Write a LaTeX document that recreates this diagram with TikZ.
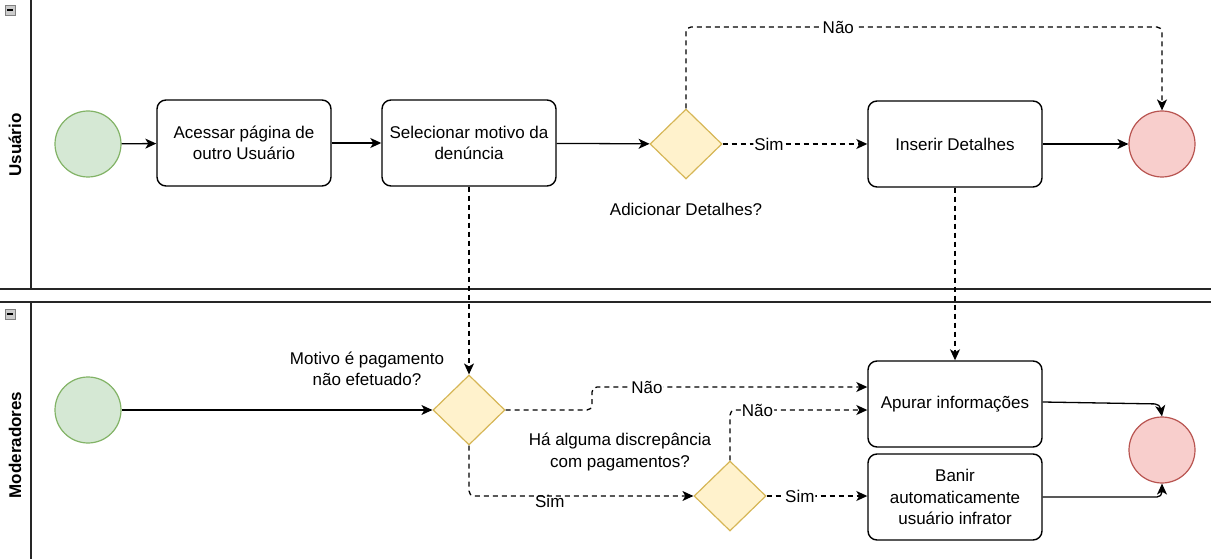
\documentclass[tikz,border=0pt]{standalone}
\usepackage{fontspec}
\setmainfont{Liberation Sans}
\usetikzlibrary{shapes.geometric,arrows.meta,positioning}
\definecolor{startfill}{HTML}{D5E8D4}
\definecolor{startline}{HTML}{82B366}
\definecolor{endfill}{HTML}{F8CECC}
\definecolor{endline}{HTML}{B85450}
\definecolor{gwfill}{HTML}{FFF2CC}
\definecolor{gwline}{HTML}{D6B656}
\tikzset{
  every node/.style={font=\fontsize{17}{21.5}\selectfont},
  task/.style={draw=black, line width=1.4pt, rounded corners=9pt, fill=white, minimum width=174pt, minimum height=86pt, align=center, inner sep=2pt},
  startev/.style={circle, draw=startline, fill=startfill, line width=1.2pt, minimum size=66pt, inner sep=0pt},
  endev/.style={circle, draw=endline, fill=endfill, line width=1.2pt, minimum size=66pt, inner sep=0pt},
  gw/.style={diamond, draw=gwline, fill=gwfill, line width=1.2pt, minimum width=72pt, minimum height=70pt, inner sep=0pt, aspect=1},
  flow/.style={line width=1.3pt, -{Stealth[length=11pt,width=10pt,inset=3pt]}, rounded corners=5pt},
  msg/.style={flow, dash pattern=on 5pt off 4pt},
  lbl/.style={fill=white, inner sep=1pt},
  lanelbl/.style={rotate=90, font=\fontsize{17}{21}\selectfont\bfseries},
  lane/.style={line width=1.3pt, draw=black!85},
  collapse/.style={draw=gray, fill=black!20, minimum size=10pt, inner sep=0pt}
}
\begin{document}
\begin{tikzpicture}[x=1pt,y=-1pt]
\useasboundingbox (0,0) rectangle (1211,559);
% lanes
\draw[lane] (31,0) -- (31,289);
\draw[lane] (0,289) -- (1211,289);
\draw[lane] (0,302) -- (1211,302);
\draw[lane] (31,302) -- (31,559);
\node[collapse] (c1) at (10,10) {};
\draw[line width=1.2pt] (7,10) -- (13,10);
\node[collapse] (c2) at (10,314) {};
\draw[line width=1.2pt] (7,314) -- (13,314);
\node[lanelbl] (l1) at (15,145) {Usuário};
\node[lanelbl] (l2) at (15,445) {Moderadores};

% top lane
\node[startev] (s1) at (88,144) {};
\node[task] (t1) at (244,143) {Acessar página de\\outro Usuário};
\node[task] (t2) at (469,143) {Selecionar motivo da\\denúncia};
\node[gw] (g1) at (686,144) {};
\node (g1l) at (686,209) {Adicionar Detalhes?};
\node[task] (t3) at (955,144) {Inserir Detalhes};
\node[endev] (e1) at (1162,144) {};

\draw[flow] (s1) -- (t1);
\draw[flow] (t1) -- (t2);
\draw[flow] (t2) -- (g1);
\draw[msg] (g1) -- node[lbl, pos=0.32] {Sim} (t3);
\draw[msg] (g1.north) -- (686,27) -- node[lbl, pos=0.32] {Não} (1162,27) -- (e1.north);
\draw[flow] (t3.east) -- (e1.west);

% bottom lane
\node[startev] (s2) at (88,410) {};
\node[gw] (g2) at (469,410) {};
\node[align=center] (g2l) at (367,369) {Motivo é pagamento\\não efetuado?};
\node[gw] (g3) at (730,496) {};
\node[align=center] (g3l) at (620,452) {Há alguma discrepância\\com pagamentos?};
\node[task] (t4) at (955,404) {Apurar informações};
\node[task] (t5) at (955,497) {Banir\\automaticamente\\usuário infrator};
\node[endev] (e2) at (1162,450) {};

\draw[msg] (t2.south) -- (g2.north);
\draw[msg] (t3.south) -- (t4.north);
\draw[flow] (s2) -- (g2);
\draw[msg] (g2.east) -- (592,410) -- (592,387) -- node[lbl, pos=0.2] {Não} (t4.west |- 0,387);
\draw[msg] (g2.south) -- (469,496) -- node[lbl, pos=0.36, yshift=-5pt, fill=none] {Sim} (g3.west);
\draw[msg] (g3.north) -- (730,410) -- node[lbl, pos=0.2] {Não} (t4.west |- 0,410);
\draw[msg] (g3.east) -- node[lbl, pos=0.33] {Sim} (t5.west |- 0,496);
\draw[flow] (t4.east |- 0,402) -- (1160,404) -- (e2.north);
\draw[flow] (t5.east |- 0,497) -- (1162,497) -- (e2.south);
\end{tikzpicture}
\end{document}
